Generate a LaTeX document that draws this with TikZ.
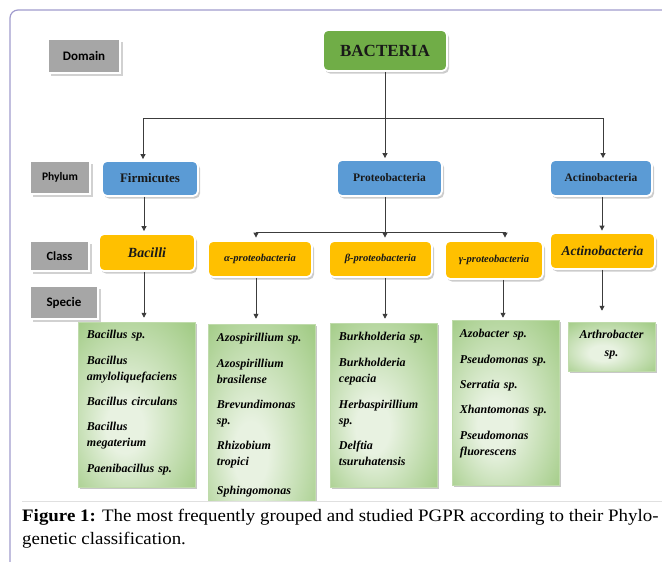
\documentclass[tikz,border=0pt]{standalone}
\usepackage{fontspec}
\setmainfont{Liberation Serif}
\newfontfamily\lblfont{Carlito}
\newfontfamily\capfont[FakeStretch=1.08]{Liberation Serif}
\usetikzlibrary{arrows.meta,shadows,calc}

\definecolor{framec}{RGB}{160,155,205}
\definecolor{lblgray}{RGB}{166,166,166}
\definecolor{bgreen}{RGB}{112,173,71}
\definecolor{bblue}{RGB}{91,155,213}
\definecolor{bgold}{RGB}{255,192,0}
\definecolor{spout}{RGB}{163,204,135}
\definecolor{spin}{RGB}{232,242,225}
\definecolor{connc}{RGB}{60,60,60}
\pgfdeclareradialshading{spsh}{\pgfpoint{-6bp}{-8bp}}{color(0bp)=(spin); color(8bp)=(spin); color(36bp)=(spout); color(50bp)=(spout)}

\begin{document}
\begin{tikzpicture}[x=1pt,y=-1pt,
  lbl/.style={rectangle, fill=lblgray, draw=white, line width=1.5pt, inner sep=0pt,
    drop shadow={shadow xshift=2.5pt, shadow yshift=-2.5pt, fill=black!18, opacity=1}},
  cbox/.style={rectangle, rounded corners=5pt, draw=white, line width=1.8pt, inner sep=0pt,
    text=black!90, drop shadow={shadow xshift=2pt, shadow yshift=-2.5pt, fill=black!20, opacity=1}},
  spbox/.style={rectangle, inner sep=0pt, draw=spout!70!white, line width=0.5pt,
    shading=spsh,
    drop shadow={shadow xshift=2pt, shadow yshift=-2pt, fill=black!22, opacity=1}},
  sptxt/.style={anchor=base west, inner sep=0pt, text width=104pt, align=left,
    font=\fontsize{12}{16}\selectfont\bfseries\itshape},
  arr/.style={draw=connc, line width=0.9pt, -{Triangle[width=5pt,length=5pt]}},
  ln/.style={draw=connc, line width=0.9pt},
]
\useasboundingbox (0,0) rectangle (662,562);

% frame and separator
\draw[framec, line width=1.2pt, rounded corners=8pt] (700,10) -- (10,10) -- (10,600);
\draw[black!12, line width=0.8pt] (22,501) -- (662,501);

% level labels
\node[lbl, minimum width=72pt, minimum height=34pt, font={\lblfont\bfseries\fontsize{13}{15}\selectfont}] (ldom) at (84,56) {Domain};
\node[lbl, minimum width=60pt, minimum height=33pt, font={\lblfont\bfseries\fontsize{11.5}{14}\selectfont}] (lphy) at (60,177.5) {Phylum};
\node[lbl, minimum width=59pt, minimum height=30pt, font={\lblfont\bfseries\fontsize{12.5}{15}\selectfont}] (lcla) at (59.5,256) {Class};
\node[lbl, minimum width=68pt, minimum height=33pt, font={\lblfont\bfseries\fontsize{13}{15}\selectfont}] (lspe) at (64,302.5) {Specie};

% domain / phylum
\node[cbox, fill=bgreen, minimum width=124pt, minimum height=41pt, font={\bfseries\fontsize{17}{19}\selectfont}] (bact) at (385,50.5) {BACTERIA};
\node[cbox, fill=bblue, minimum width=96pt, minimum height=35pt, font={\bfseries\fontsize{13}{15}\selectfont}] (firm) at (150,178.5) {Firmicutes};
\node[cbox, fill=bblue, minimum width=105pt, minimum height=36pt, font={\bfseries\fontsize{11.5}{14}\selectfont}] (proteo) at (389.5,178) {Proteobacteria};
\node[cbox, fill=bblue, minimum width=102pt, minimum height=36pt, font={\bfseries\fontsize{11.5}{14}\selectfont}] (actp) at (601,178) {Actinobacteria};

% class
\node[cbox, fill=bgold, minimum width=96pt, minimum height=37pt, font={\bfseries\itshape\fontsize{14}{16}\selectfont}] (bacilli) at (147,252.5) {Bacilli};
\node[cbox, fill=bgold, minimum width=104pt, minimum height=36pt, font={\bfseries\itshape\fontsize{10.5}{13}\selectfont}] (alpha) at (260,259) {α-proteobacteria};
\node[cbox, fill=bgold, minimum width=103pt, minimum height=36pt, font={\bfseries\itshape\fontsize{10.5}{13}\selectfont}] (beta) at (380.5,259) {β-proteobacteria};
\node[cbox, fill=bgold, minimum width=98pt, minimum height=38pt, font={\bfseries\itshape\fontsize{10.5}{13}\selectfont}] (gamma) at (494,260) {γ-proteobacteria};
\node[cbox, fill=bgold, minimum width=105pt, minimum height=36pt, font={\bfseries\itshape\fontsize{13.5}{16}\selectfont}] (actc) at (602.5,251) {Actinobacteria};

% species
\node[spbox, minimum width=117pt, minimum height=165pt] (sp1) at (136.5,404.5) {};
\node[sptxt] (sp1t) at ([xshift=9pt,yshift=-17pt]sp1.north west)
  {Bacillus sp.\\[9.5pt] Bacillus\\ amyloliquefaciens\\[9pt] Bacillus circulans\\[9.5pt] Bacillus\\ megaterium\\[9.5pt] Paenibacillus sp.};

\begin{scope}
\clip (0,0) rectangle (662,500);
\node[spbox, minimum width=107pt, minimum height=206pt] (sp2) at (261.5,427) {};
\node[sptxt] (sp2t) at ([xshift=9pt,yshift=-18pt]sp2.north west)
  {Azospirillium sp.\\[9.5pt] Azospirillium\\ brasilense\\[9pt] Brevundimonas\\ sp.\\[9.5pt] Rhizobium\\ tropici\\[13pt] Sphingomonas};
\end{scope}

\node[spbox, minimum width=107pt, minimum height=164pt] (sp3) at (383.5,405) {};
\node[sptxt] (sp3t) at ([xshift=9pt,yshift=-18pt]sp3.north west)
  {Burkholderia sp.\\[10pt] Burkholderia\\ cepacia\\[10pt] Herbaspirillium\\ sp.\\[9pt] Delftia\\ tsuruhatensis};

\node[spbox, minimum width=107pt, minimum height=165pt] (sp4) at (505.5,402.5) {};
\node[sptxt] (sp4t) at ([xshift=8pt,yshift=-18pt]sp4.north west)
  {Azobacter sp.\\[10pt] Pseudomonas sp.\\[9pt] Serratia sp.\\[9pt] Xhantomonas sp.\\[10pt] Pseudomonas\\ fluorescens};

\node[spbox, minimum width=87pt, minimum height=49pt] (sp5) at (611.5,346.5) {};
\node[anchor=base, inner sep=0pt, text width=84pt, align=center,
  font=\fontsize{12}{18}\selectfont\bfseries\itshape] (sp5t) at ([yshift=-17pt]sp5.north) {Arthrobacter\\ sp.};

% connectors
\coordinate (j1) at (385,118);
\draw[ln] (bact.south) -- (j1);
\draw[arr, shorten >=1pt] (j1) -| ([xshift=-7pt]firm.north);
\draw[arr, shorten >=1pt] (j1) -- (j1 |- proteo.north);
\draw[arr, shorten >=1pt] (j1) -| ([xshift=2pt]actp.north);

\draw[arr, shorten >=2pt] ([xshift=-6pt]firm.south) -- ([xshift=-6pt]firm.south |- bacilli.north);
\draw[arr, shorten >=1.5pt] ([xshift=1pt]actp.south) -- ([xshift=1pt]actp.south |- actc.north);

\coordinate (j2) at (385,232);
\draw[ln] ([xshift=-4.5pt]proteo.south) -- (j2);
\draw[arr, shorten >=2.5pt] (j2) -| ([xshift=-4pt]alpha.north);
\draw[arr, shorten >=2.5pt] (j2) -- (j2 |- beta.north);
\draw[arr, shorten >=2.5pt] (j2) -| ([xshift=11pt]gamma.north);

\draw[arr, shorten >=4pt] ([xshift=-3pt]bacilli.south) -- ([xshift=-3pt]bacilli.south |- sp1.north);
\draw[arr, shorten >=5pt] ([xshift=-4pt]alpha.south) -- ([xshift=-4pt]alpha.south |- sp2.north);
\draw[arr, shorten >=4pt] ([xshift=4.5pt]beta.south) -- ([xshift=4.5pt]beta.south |- sp3.north);
\draw[arr, shorten >=2pt] ([xshift=9pt]gamma.south) -- ([xshift=9pt]gamma.south |- sp4.north);
\draw[arr, shorten >=11pt] ([xshift=-0.5pt]actc.south) -- ([xshift=-0.5pt]actc.south |- sp5.north);

% caption
\node[anchor=base west, inner sep=0pt, font={\capfont\fontsize{17.5}{23}\selectfont}] (cap1) at (22,521)
  {\textbf{Figure 1:} The most frequently grouped and studied PGPR according to their Phylo-};
\node[anchor=base west, inner sep=0pt, font={\capfont\fontsize{17.5}{23}\selectfont}] (cap2) at (22,544)
  {genetic classification.};
\end{tikzpicture}
\end{document}
